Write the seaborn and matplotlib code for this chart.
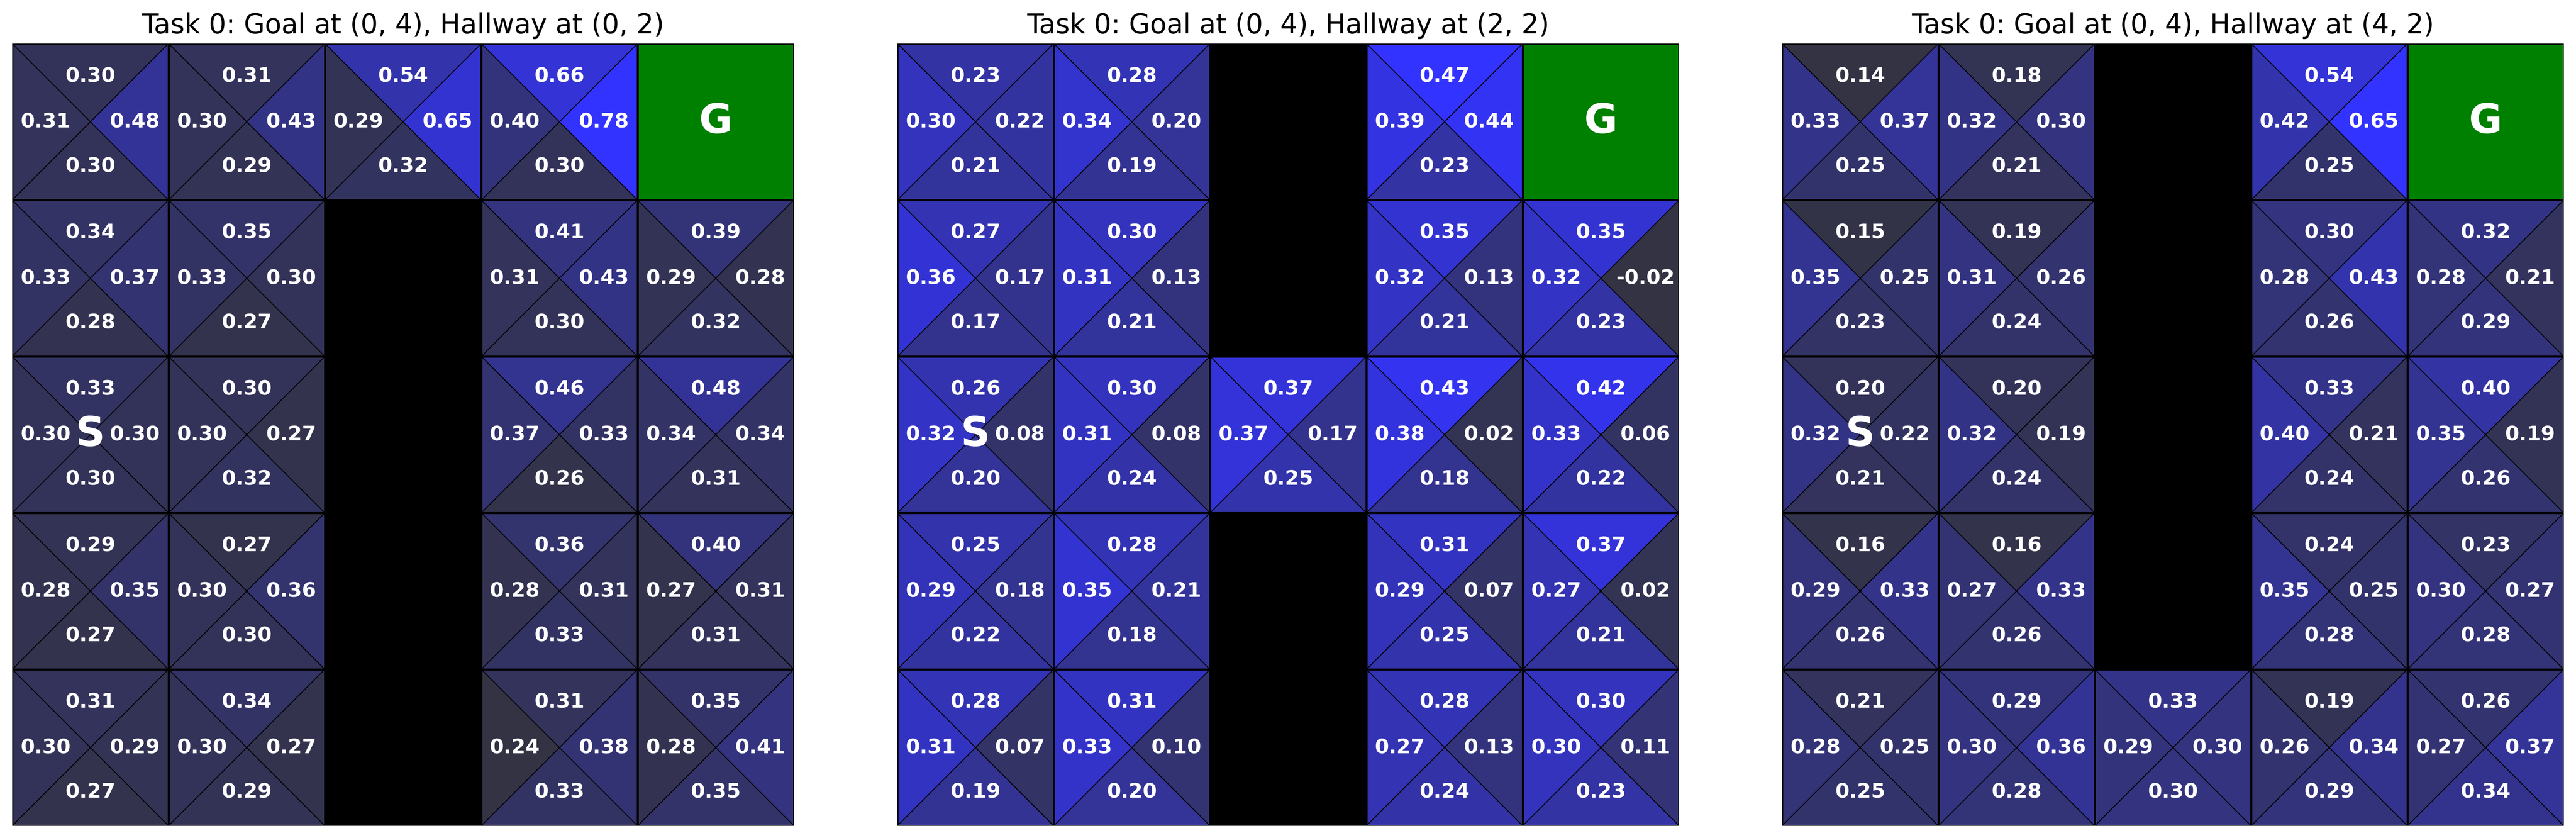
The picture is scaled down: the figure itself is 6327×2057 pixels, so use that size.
import numpy as np
import seaborn as sns
import matplotlib.pyplot as plt
from matplotlib.collections import PolyCollection
from matplotlib.patches import Rectangle

# Q-values per cell, rows top to bottom, None = wall or goal
# Task with hallway at (0, 2)
h02_up = [[.30, .31, .54, .66, None],
          [.34, .35, None, .41, .39],
          [.33, .30, None, .46, .48],
          [.29, .27, None, .36, .40],
          [.31, .34, None, .31, .35]]
h02_down = [[.30, .29, .32, .30, None],
            [.28, .27, None, .30, .32],
            [.30, .32, None, .26, .31],
            [.27, .30, None, .33, .31],
            [.27, .29, None, .33, .35]]
h02_left = [[.31, .30, .29, .40, None],
            [.33, .33, None, .31, .29],
            [.30, .30, None, .37, .34],
            [.28, .30, None, .28, .27],
            [.30, .30, None, .24, .28]]
h02_right = [[.48, .43, .65, .78, None],
             [.37, .30, None, .43, .28],
             [.30, .27, None, .33, .34],
             [.35, .36, None, .31, .31],
             [.29, .27, None, .38, .41]]

# Task with hallway at (2, 2)
h22_up = [[.23, .28, None, .47, None],
          [.27, .30, None, .35, .35],
          [.26, .30, .37, .43, .42],
          [.25, .28, None, .31, .37],
          [.28, .31, None, .28, .30]]
h22_down = [[.21, .19, None, .23, None],
            [.17, .21, None, .21, .23],
            [.20, .24, .25, .18, .22],
            [.22, .18, None, .25, .21],
            [.19, .20, None, .24, .23]]
h22_left = [[.30, .34, None, .39, None],
            [.36, .31, None, .32, .32],
            [.32, .31, .37, .38, .33],
            [.29, .35, None, .29, .27],
            [.31, .33, None, .27, .30]]
h22_right = [[.22, .20, None, .44, None],
             [.17, .13, None, .13, -.02],
             [.08, .08, .17, .02, .06],
             [.18, .21, None, .07, .02],
             [.07, .10, None, .13, .11]]

# Task with hallway at (4, 2)
h42_up = [[.14, .18, None, .54, None],
          [.15, .19, None, .30, .32],
          [.20, .20, None, .33, .40],
          [.16, .16, None, .24, .23],
          [.21, .29, .33, .19, .26]]
h42_down = [[.25, .21, None, .25, None],
            [.23, .24, None, .26, .29],
            [.21, .24, None, .24, .26],
            [.26, .26, None, .28, .28],
            [.25, .28, .30, .29, .34]]
h42_left = [[.33, .32, None, .42, None],
            [.35, .31, None, .28, .28],
            [.32, .32, None, .40, .35],
            [.29, .27, None, .35, .30],
            [.28, .30, .29, .26, .27]]
h42_right = [[.37, .30, None, .65, None],
             [.25, .26, None, .43, .21],
             [.22, .19, None, .21, .19],
             [.33, .33, None, .25, .27],
             [.25, .36, .30, .34, .37]]

titles = ["Task 0: Goal at (0, 4), Hallway at (0, 2)",
          "Task 0: Goal at (0, 4), Hallway at (2, 2)",
          "Task 0: Goal at (0, 4), Hallway at (4, 2)"]
hallways = [(0, 2), (2, 2), (4, 2)]
goal = (0, 4)
start = (2, 0)
wall_col = 2

tasks = [(h02_up, h02_down, h02_left, h02_right),
         (h22_up, h22_down, h22_left, h22_right),
         (h42_up, h42_down, h42_left, h42_right)]

sns.set_theme(style="white")
cmap = sns.blend_palette(["#333344", "#3333ff"], as_cmap=True)

fig = plt.figure(figsize=(6327 / 300, 2057 / 300), dpi=300)
lefts = [30 / 6327, 2204 / 6327, 4377 / 6327]

for k, (title, hall, q) in enumerate(zip(titles, hallways, tasks)):
    ax = fig.add_axes([lefts[k], 29 / 2057, 1920 / 6327, 1922 / 2057])
    up, down, left, right = [np.array(a, dtype=float) for a in q]
    allv = np.concatenate([up, down, left, right]).ravel()
    vmin, vmax = np.nanmin(allv), np.nanmax(allv)

    polys, vals, labels = [], [], []
    for r in range(5):
        for c in range(5):
            if (r, c) == goal:
                ax.add_patch(Rectangle((c, r), 1, 1, facecolor="green",
                                       edgecolor="black", lw=1.2, zorder=3))
                ax.text(c + .5, r + .5, "G", color="white", fontsize=24,
                        fontweight="bold", ha="center", va="center", zorder=5)
                continue
            if np.isnan(up[r, c]):
                ax.add_patch(Rectangle((c, r), 1, 1, facecolor="black",
                                       edgecolor="black", lw=0, zorder=3))
                continue
            mid = (c + .5, r + .5)
            tri = {
                "up": [(c, r), (c + 1, r), mid],
                "down": [(c, r + 1), (c + 1, r + 1), mid],
                "left": [(c, r), (c, r + 1), mid],
                "right": [(c + 1, r), (c + 1, r + 1), mid],
            }
            pos = {"up": (c + .5, r + .21), "down": (c + .5, r + .785),
                   "left": (c + .215, r + .5), "right": (c + .785, r + .5)}
            for name, arr in zip(["up", "down", "left", "right"], [up, down, left, right]):
                polys.append(tri[name])
                vals.append(arr[r, c])
                labels.append((pos[name], arr[r, c]))
            ax.add_patch(Rectangle((c, r), 1, 1, facecolor="none",
                                   edgecolor="black", lw=1.2, zorder=4))

    pc = PolyCollection(polys, array=np.array(vals), cmap=cmap,
                        edgecolors="black", linewidths=0.5, zorder=2)
    pc.set_clim(vmin, vmax)
    ax.add_collection(pc)

    for (x, y), v in labels:
        ax.text(x, y, f"{v:.2f}", color="white", fontsize=12, fontweight="bold",
                ha="center", va="center", zorder=5)

    ax.text(start[1] + .5, start[0] + .5, "S", color="white", fontsize=24,
            fontweight="bold", ha="center", va="center", zorder=6)

    ax.set_xlim(0, 5)
    ax.set_ylim(5, 0)
    ax.set_aspect("equal")
    ax.axis("off")
    ax.set_title(title, fontsize=16, color="black")

plt.savefig("out.png", dpi=300)
